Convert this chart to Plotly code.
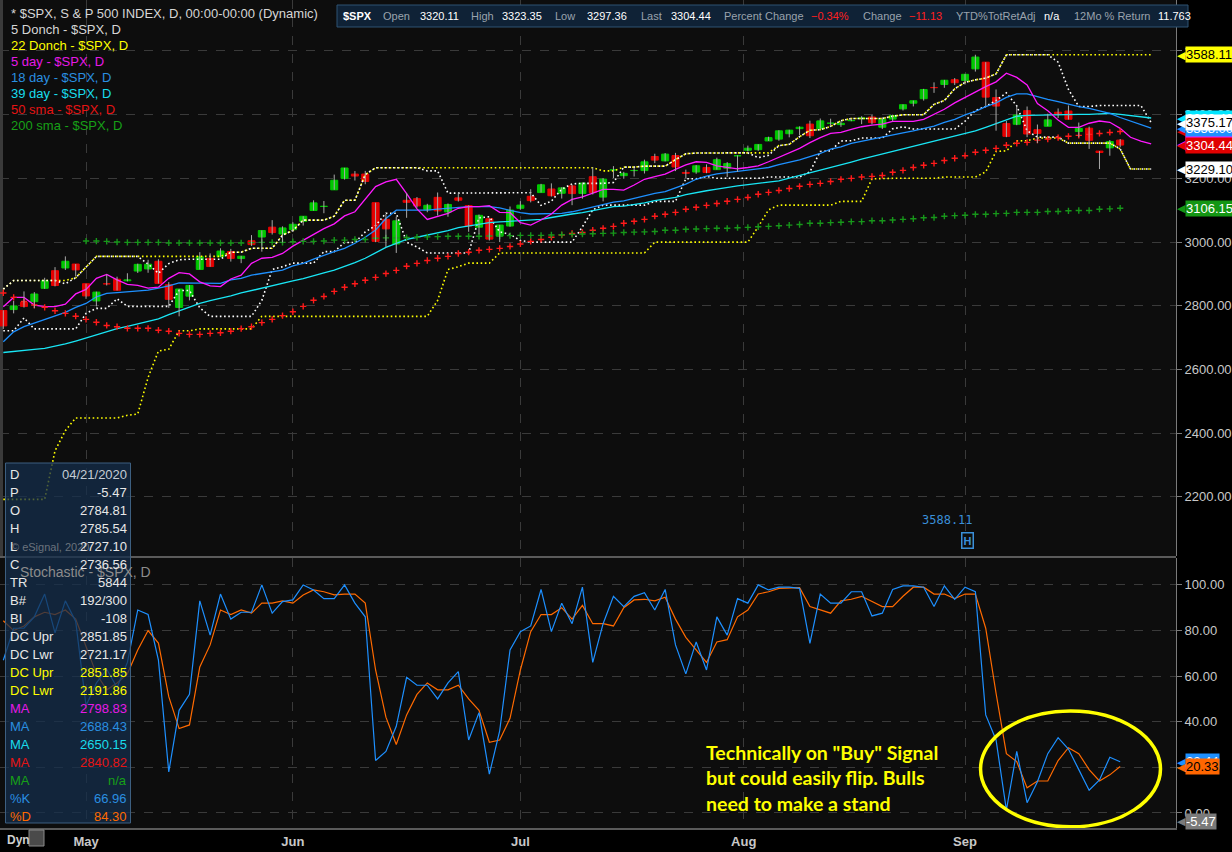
import plotly.graph_objects as go

# S&P 500 daily bars: bar 0 = 21 Apr 2020 ... bar 108 = 23 Sep 2020 (live bar)
opens = [2784.81, 2787.89, 2810.42, 2812.64, 2854.65, 2909.96, 2918.46, 2930.91, 2869.09, 2815.01,
         2868.88, 2883.14, 2878.26, 2908.83, 2915.46, 2939.50, 2865.86, 2794.54, 2829.95, 2913.86,
         2948.59, 2953.63, 2969.95, 2948.05, 3004.08, 3015.65, 3046.61, 3025.17, 3038.78, 3064.78,
         3098.90, 3111.56, 3163.84, 3199.92, 3213.32, 3213.42, 3123.53, 3071.04, 2993.76, 3131.00,
         3136.13, 3101.64, 3140.29, 3094.42, 3138.70, 3114.40, 3046.60, 3073.20, 3018.59, 3050.20,
         3105.92, 3143.64, 3155.29, 3166.44, 3153.07, 3176.17, 3152.47, 3205.08, 3141.11, 3225.98,
         3208.36, 3224.21, 3224.29, 3268.52, 3254.86, 3271.64, 3218.58, 3219.84, 3234.27, 3227.22,
         3231.76, 3270.45, 3288.26, 3289.92, 3317.37, 3323.17, 3340.05, 3356.04, 3370.34, 3355.46,
         3372.95, 3368.66, 3380.86, 3387.04, 3392.51, 3360.48, 3386.01, 3418.09, 3435.95, 3449.97,
         3485.14, 3494.69, 3509.73, 3507.44, 3543.76, 3564.74, 3453.60, 3371.88, 3369.82, 3412.56,
         3352.70, 3363.56, 3407.73, 3411.23, 3346.86, 3357.38, 3285.57, 3295.75, 3320.11]
highs = [2785.54, 2815.10, 2844.90, 2842.71, 2887.72, 2921.15, 2954.86, 2930.91, 2869.09, 2844.24,
         2898.23, 2891.11, 2901.92, 2932.16, 2944.25, 2945.82, 2874.14, 2852.80, 2865.01, 2968.09,
         2964.21, 2980.29, 2978.50, 2956.76, 3021.72, 3036.25, 3068.67, 3049.17, 3062.18, 3081.07,
         3130.94, 3128.91, 3211.72, 3233.13, 3222.71, 3223.27, 3123.53, 3088.42, 3079.76, 3153.45,
         3141.16, 3120.00, 3155.53, 3120.92, 3154.90, 3115.01, 3086.25, 3073.73, 3053.89, 3111.51,
         3128.44, 3165.81, 3182.59, 3184.15, 3171.80, 3179.78, 3186.82, 3235.32, 3200.95, 3238.28,
         3220.39, 3233.52, 3258.61, 3277.29, 3279.32, 3279.99, 3227.26, 3241.43, 3243.72, 3264.74,
         3250.92, 3272.17, 3302.73, 3306.84, 3330.77, 3351.03, 3352.54, 3363.29, 3381.01, 3387.89,
         3387.24, 3378.51, 3387.59, 3395.06, 3399.54, 3390.80, 3399.96, 3432.09, 3444.21, 3481.07,
         3501.38, 3509.23, 3514.77, 3528.03, 3588.11, 3564.85, 3479.15, 3379.97, 3424.77, 3425.55,
         3368.95, 3402.93, 3419.48, 3428.92, 3375.17, 3362.27, 3285.57, 3320.31, 3323.35]
lows = [2727.10, 2775.95, 2794.26, 2791.76, 2852.89, 2860.71, 2912.16, 2892.47, 2821.61, 2797.85,
        2863.55, 2847.65, 2876.48, 2902.88, 2903.44, 2869.59, 2793.15, 2766.64, 2816.78, 2913.86,
        2922.35, 2953.63, 2938.57, 2933.59, 2988.17, 2969.75, 3023.40, 2998.61, 3031.54, 3051.64,
        3098.90, 3090.41, 3163.84, 3196.00, 3193.11, 3181.49, 2999.49, 2984.47, 2965.66, 3076.06,
        3108.03, 3093.51, 3083.11, 3079.39, 3127.12, 3032.13, 3024.01, 3004.63, 2999.74, 3047.83,
        3101.17, 3124.52, 3155.29, 3142.93, 3136.53, 3115.70, 3136.22, 3149.43, 3127.66, 3200.76,
        3198.59, 3205.65, 3215.16, 3247.77, 3253.10, 3222.66, 3200.05, 3214.25, 3216.17, 3227.22,
        3204.13, 3220.26, 3284.53, 3286.37, 3317.37, 3318.14, 3328.72, 3335.44, 3326.44, 3355.46,
        3363.35, 3361.64, 3379.22, 3370.15, 3369.66, 3354.69, 3379.31, 3413.13, 3425.84, 3444.15,
        3468.35, 3484.32, 3493.25, 3494.60, 3535.23, 3427.41, 3349.63, 3329.27, 3366.84, 3329.25,
        3310.47, 3363.56, 3389.25, 3384.45, 3328.82, 3292.40, 3229.10, 3270.95, 3297.36]
closes = [2736.56, 2799.31, 2797.80, 2836.74, 2878.48, 2863.39, 2939.51, 2912.43, 2830.71, 2842.74,
          2868.44, 2848.42, 2881.19, 2929.80, 2930.32, 2870.12, 2820.00, 2852.50, 2863.70, 2953.91,
          2922.94, 2971.61, 2948.51, 2955.45, 2991.77, 3036.13, 3029.73, 3044.31, 3055.73, 3080.82,
          3122.87, 3112.35, 3193.93, 3232.39, 3207.18, 3190.14, 3002.10, 3041.31, 3066.59, 3124.74,
          3113.49, 3115.34, 3097.74, 3117.86, 3131.29, 3050.33, 3083.76, 3009.05, 3053.24, 3100.29,
          3115.86, 3130.01, 3179.72, 3145.32, 3169.94, 3152.05, 3185.04, 3155.22, 3197.52, 3226.56,
          3215.57, 3224.73, 3251.84, 3257.30, 3276.02, 3235.66, 3215.63, 3239.41, 3218.44, 3258.44,
          3246.22, 3271.12, 3294.61, 3306.51, 3327.77, 3349.16, 3351.28, 3360.47, 3333.69, 3380.35,
          3373.43, 3372.85, 3381.99, 3389.78, 3374.85, 3385.51, 3397.16, 3431.28, 3443.62, 3478.73,
          3484.55, 3508.01, 3500.31, 3526.65, 3580.84, 3455.06, 3426.96, 3331.84, 3398.96, 3339.19,
          3340.97, 3383.54, 3401.20, 3385.49, 3357.01, 3319.47, 3281.06, 3315.57, 3304.44]

# moving averages and donchian channels are displaced 3 bars -> they run to bar 111
ma5 = [2797, 2826, 2826, 2802, 2797, 2797, 2805, 2837, 2851, 2886,
       2898, 2881, 2867, 2864, 2855, 2858, 2886, 2904, 2900, 2875,
       2862, 2860, 2884, 2896, 2933, 2949, 2952, 2964, 2987, 3006,
       3025, 3042, 3057, 3082, 3095, 3134, 3174, 3189, 3197, 3152,
       3104, 3071, 3080, 3090, 3106, 3111, 3111, 3114, 3093, 3092,
       3061, 3053, 3069, 3088, 3116, 3134, 3142, 3153, 3165, 3165,
       3163, 3179, 3197, 3205, 3213, 3228, 3242, 3252, 3250, 3239,
       3234, 3230, 3234, 3239, 3252, 3266, 3281, 3294, 3312, 3328,
       3341, 3344, 3354, 3362, 3367, 3370, 3379, 3379, 3379, 3385,
       3402, 3417, 3437, 3454, 3472, 3488, 3503, 3530, 3517, 3493,
       3435, 3412, 3383, 3360, 3360, 3373, 3380, 3376, 3357, 3329,
       3317, 3308]
ma18 = [2687, 2718, 2734, 2745, 2755, 2766, 2779, 2795, 2807, 2828,
        2839, 2841, 2844, 2847, 2849, 2855, 2862, 2872, 2872, 2870,
        2870, 2870, 2881, 2886, 2896, 2902, 2906, 2912, 2925, 2933,
        2946, 2959, 2970, 2980, 2996, 3015, 3038, 3074, 3100, 3100,
        3099, 3100, 3103, 3106, 3110, 3111, 3111, 3111, 3107, 3100,
        3092, 3088, 3088, 3088, 3090, 3095, 3103, 3110, 3119, 3125,
        3129, 3137, 3145, 3153, 3158, 3169, 3182, 3197, 3207, 3214,
        3218, 3221, 3226, 3229, 3234, 3243, 3250, 3258, 3268, 3278,
        3292, 3299, 3310, 3317, 3324, 3330, 3337, 3343, 3349, 3356,
        3364, 3376, 3385, 3399, 3410, 3425, 3437, 3454, 3465, 3465,
        3456, 3448, 3441, 3432, 3425, 3420, 3412, 3404, 3391, 3380,
        3370, 3358]
ma39 = [2653, 2657, 2661, 2663, 2666, 2672, 2680, 2689, 2699, 2710,
        2720, 2728, 2735, 2743, 2750, 2759, 2772, 2784, 2797, 2807,
        2816, 2823, 2831, 2840, 2848, 2856, 2862, 2870, 2878, 2885,
        2893, 2903, 2912, 2923, 2935, 2949, 2965, 2983, 2996, 3008,
        3015, 3022, 3027, 3036, 3045, 3051, 3057, 3061, 3063, 3065,
        3068, 3069, 3071, 3077, 3083, 3088, 3092, 3098, 3105, 3111,
        3113, 3117, 3123, 3130, 3135, 3140, 3149, 3156, 3161, 3166,
        3172, 3176, 3180, 3184, 3187, 3192, 3201, 3209, 3218, 3226,
        3234, 3243, 3251, 3260, 3268, 3276, 3284, 3291, 3299, 3308,
        3316, 3323, 3332, 3340, 3349, 3360, 3372, 3385, 3395, 3398,
        3399, 3400, 3400, 3400, 3401, 3401, 3403, 3404, 3401, 3397,
        3392, 3389.40]
dc5_upper = [2851.85, 2879.22, 2879.22, 2879.22, 2879.22, 2879.22, 2868.98, 2887.72, 2921.15, 2954.86,
             2954.86, 2954.86, 2954.86, 2954.86, 2930.91, 2901.92, 2932.16, 2944.25, 2945.82, 2945.82,
             2945.82, 2945.82, 2968.09, 2968.09, 2980.29, 2980.29, 2980.29, 3021.72, 3036.25, 3068.67,
             3068.67, 3068.67, 3081.07, 3130.94, 3130.94, 3211.72, 3233.13, 3233.13, 3233.13, 3233.13,
             3233.13, 3223.27, 3223.27, 3153.45, 3153.45, 3155.53, 3155.53, 3155.53, 3155.53, 3155.53,
             3154.90, 3154.90, 3115.01, 3128.44, 3165.81, 3182.59, 3184.15, 3184.15, 3184.15, 3186.82,
             3235.32, 3235.32, 3238.28, 3238.28, 3238.28, 3258.61, 3277.29, 3279.32, 3279.99, 3279.99,
             3279.99, 3279.99, 3279.99, 3264.74, 3272.17, 3302.73, 3306.84, 3330.77, 3351.03, 3352.54,
             3363.29, 3381.01, 3387.89, 3387.89, 3387.89, 3387.89, 3395.06, 3399.54, 3399.54, 3399.96,
             3432.09, 3444.21, 3481.07, 3501.38, 3509.23, 3514.77, 3528.03, 3588.11, 3588.11, 3588.11,
             3588.11, 3588.11, 3564.85, 3479.15, 3425.55, 3425.55, 3428.92, 3428.92, 3428.92, 3428.92,
             3428.92, 3375.17]
dc5_lower = [2721.17, 2721.17, 2761.54, 2727.10, 2727.10, 2727.10, 2727.10, 2727.10, 2775.95, 2791.76,
             2791.76, 2821.61, 2797.85, 2797.85, 2797.85, 2797.85, 2797.85, 2847.65, 2847.65, 2793.15,
             2766.64, 2766.64, 2766.64, 2766.64, 2766.64, 2816.78, 2913.86, 2922.35, 2933.59, 2933.59,
             2933.59, 2969.75, 2969.75, 2998.61, 2998.61, 3031.54, 3051.64, 3090.41, 3090.41, 2999.49,
             2984.47, 2965.66, 2965.66, 2965.66, 2965.66, 2965.66, 3076.06, 3079.39, 3032.13, 3024.01,
             3004.63, 2999.74, 2999.74, 2999.74, 2999.74, 2999.74, 3047.83, 3101.17, 3115.70, 3115.70,
             3115.70, 3115.70, 3115.70, 3127.66, 3127.66, 3127.66, 3198.59, 3198.59, 3205.65, 3200.05,
             3200.05, 3200.05, 3200.05, 3200.05, 3204.13, 3204.13, 3204.13, 3204.13, 3220.26, 3284.53,
             3286.37, 3317.37, 3318.14, 3326.44, 3326.44, 3326.44, 3355.46, 3361.64, 3354.69, 3354.69,
             3354.69, 3354.69, 3354.69, 3379.31, 3413.13, 3425.84, 3444.15, 3468.35, 3427.41, 3349.63,
             3329.27, 3329.27, 3329.25, 3310.47, 3310.47, 3310.47, 3310.47, 3310.47, 3292.40, 3229.10,
             3229.10, 3229.10]
dc22_upper = [2851.85, 2879.22, 2879.22, 2879.22, 2879.22, 2879.22, 2879.22, 2887.72, 2921.15, 2954.86,
              2954.86, 2954.86, 2954.86, 2954.86, 2954.86, 2954.86, 2954.86, 2954.86, 2954.86, 2954.86,
              2954.86, 2954.86, 2968.09, 2968.09, 2980.29, 2980.29, 2980.29, 3021.72, 3036.25, 3068.67,
              3068.67, 3068.67, 3081.07, 3130.94, 3130.94, 3211.72, 3233.13, 3233.13, 3233.13, 3233.13,
              3233.13, 3233.13, 3233.13, 3233.13, 3233.13, 3233.13, 3233.13, 3233.13, 3233.13, 3233.13,
              3233.13, 3233.13, 3233.13, 3233.13, 3233.13, 3233.13, 3233.13, 3233.13, 3223.27, 3223.27,
              3235.32, 3235.32, 3238.28, 3238.28, 3238.28, 3258.61, 3277.29, 3279.32, 3279.99, 3279.99,
              3279.99, 3279.99, 3279.99, 3279.99, 3279.99, 3302.73, 3306.84, 3330.77, 3351.03, 3352.54,
              3363.29, 3381.01, 3387.89, 3387.89, 3387.89, 3387.89, 3395.06, 3399.54, 3399.54, 3399.96,
              3432.09, 3444.21, 3481.07, 3501.38, 3509.23, 3514.77, 3528.03, 3588.11, 3588.11, 3588.11,
              3588.11, 3588.11, 3588.11, 3588.11, 3588.11, 3588.11, 3588.11, 3588.11, 3588.11, 3588.11,
              3588.11, 3588.11]
dc22_lower = [2191.86, 2191.86, 2191.86, 2191.86, 2191.86, 2344.44, 2407.53, 2447.49, 2447.49, 2447.49,
              2447.49, 2447.49, 2455.79, 2459.96, 2574.57, 2657.67, 2663.30, 2721.17, 2721.17, 2727.10,
              2727.10, 2727.10, 2727.10, 2727.10, 2727.10, 2766.64, 2766.64, 2766.64, 2766.64, 2766.64,
              2766.64, 2766.64, 2766.64, 2766.64, 2766.64, 2766.64, 2766.64, 2766.64, 2766.64, 2766.64,
              2766.64, 2766.64, 2816.78, 2913.86, 2922.35, 2933.59, 2933.59, 2933.59, 2965.66, 2965.66,
              2965.66, 2965.66, 2965.66, 2965.66, 2965.66, 2965.66, 2965.66, 2965.66, 2965.66, 2965.66,
              2965.66, 2965.66, 2965.66, 2999.74, 2999.74, 2999.74, 2999.74, 2999.74, 2999.74, 2999.74,
              2999.74, 2999.74, 2999.74, 3047.83, 3101.17, 3115.70, 3115.70, 3115.70, 3115.70, 3115.70,
              3115.70, 3127.66, 3127.66, 3127.66, 3198.59, 3200.05, 3200.05, 3200.05, 3200.05, 3200.05,
              3200.05, 3204.13, 3204.13, 3204.13, 3204.13, 3220.26, 3284.53, 3286.37, 3317.37, 3318.14,
              3326.44, 3326.44, 3326.44, 3310.47, 3310.47, 3310.47, 3310.47, 3310.47, 3292.40, 3229.10,
              3229.10, 3229.10]

# simple moving averages, not displaced
sma50 = [2840, 2826, 2813, 2802, 2795, 2784, 2776, 2767, 2757, 2748,
         2738, 2734, 2729, 2729, 2729, 2723, 2720, 2713, 2710, 2710,
         2713, 2715, 2720, 2728, 2734, 2747, 2757, 2769, 2781, 2798,
         2817, 2829, 2845, 2858, 2869, 2880, 2889, 2901, 2911, 2924,
         2933, 2942, 2949, 2955, 2964, 2968, 2974, 2977, 2980, 2986,
         2994, 3002, 3008, 3015, 3022, 3027, 3030, 3037, 3043, 3049,
         3059, 3065, 3071, 3081, 3087, 3093, 3103, 3109, 3115, 3121,
         3128, 3134, 3140, 3150, 3156, 3162, 3168, 3175, 3181, 3184,
         3190, 3197, 3200, 3204, 3206, 3209, 3219, 3225, 3234, 3241,
         3247, 3256, 3263, 3271, 3282, 3288, 3294, 3304, 3310, 3313,
         3320, 3323, 3328, 3332, 3335, 3338, 3341, 3344, 3347.20]
sma200_first_bar = 8
sma200 = [3003, 3003, 3002, 3000, 2999, 2999, 2999, 2999, 2997, 2997,
          2997, 2997, 2997, 2997, 2997, 2997, 2998, 2999, 2999, 2999,
          3001, 3002, 3002, 3003, 3006, 3006, 3008, 3008, 3012, 3013,
          3013, 3014, 3015, 3016, 3017, 3018, 3018, 3018, 3018, 3019,
          3019, 3020, 3021, 3021, 3021, 3022, 3023, 3024, 3025, 3026,
          3027, 3028, 3030, 3031, 3032, 3033, 3037, 3037, 3040, 3041,
          3042, 3043, 3043, 3045, 3046, 3048, 3049, 3051, 3053, 3055,
          3059, 3059, 3061, 3062, 3064, 3064, 3067, 3067, 3069, 3071,
          3073, 3076, 3077, 3081, 3083, 3084, 3087, 3087, 3089, 3090,
          3093, 3093, 3093, 3096, 3096, 3098, 3099, 3099, 3103, 3104,
          3106.15]

stoch_k = [66.96, 81, 81, 86, 96, 79, 93, 84, 47, 57,
           63, 55, 66, 89, 87, 67, 18, 45, 52, 93,
           78, 96, 85, 88, 88, 100, 87.6, 92.7, 93.4, 100,
           97.8, 94, 94, 100, 92, 86, 23, 27, 38, 59.5,
           56, 56, 50, 57, 62, 32, 44, 17, 36, 71.5,
           79.5, 82, 98, 79.5, 92, 83, 99, 66, 83, 95,
           90.5, 95, 96.6, 89, 98, 73.7, 61, 75, 62.7, 86,
           78, 94, 92, 100, 97.8, 99, 99, 98.5, 74.4, 96,
           92, 92, 97, 97, 86.4, 87.6, 98, 99.6, 99.6, 99,
           90.5, 99.6, 93.7, 99, 97, 43, 32, 1.3, 27, 4.5,
           13.7, 26, 33, 28, 19, 10, 14.5, 24.4, 22.44]
stoch_d = [84.30, 80, 82, 86, 88, 87, 89, 85, 73, 61,
           54, 57, 61, 71.5, 80, 74.5, 51, 37, 38.6, 64,
           73.7, 89, 87, 89, 87.6, 92, 92, 93, 92, 95.6,
           97.8, 97, 95.6, 96, 96, 92, 62.7, 42, 30, 43,
           52, 57, 54, 54, 56, 50, 45, 31, 32, 41.5,
           62.7, 79.5, 87, 87, 90, 85, 91, 83, 83, 82,
           90, 93.4, 93.7, 93, 94.6, 85, 77, 71.5, 66, 75,
           76, 86, 89, 96, 97, 98.5, 98.5, 98.8, 90.5, 89,
           87.6, 93, 93.7, 95, 92.7, 90.5, 90.5, 95, 99, 99,
           96, 96, 94, 96, 96, 81, 52.5, 26, 22.5, 11,
           14, 14, 23, 28.6, 26, 19, 14, 16.7, 20.33]

month_bars = [8, 28, 50, 71.6, 93]
month_names = ["May", "Jun", "Jul", "Aug", "Sep"]
price_ticks = [2200, 2400, 2600, 2800, 3000, 3200, 3400, 3600]
stoch_ticks = [0, 20, 40, 60, 80, 100]

legend_rows = [
    ("* $SPX, S & P 500 INDEX, D, 00:00-00:00 (Dynamic)", "#d6d6d6"),
    ("5 Donch - $SPX, D", "#d6d6d6"),
    ("22 Donch - $SPX, D", "#ffff00"),
    ("5 day - $SPX, D", "#e619e6"),
    ("18 day - $SPX, D", "#2a8fe0"),
    ("39 day - $SPX, D", "#19dcec"),
    ("50 sma - $SPX, D", "#e61414"),
    ("200 sma - $SPX, D", "#17a017"),
]
quote_items = [("$SPX", "#ffffff"), ("Open", "#9aa3ad"), ("3320.11", "#ffffff"),
               ("High", "#9aa3ad"), ("3323.35", "#ffffff"), ("Low", "#9aa3ad"),
               ("3297.36", "#ffffff"), ("Last", "#9aa3ad"), ("3304.44", "#ffffff"),
               ("Percent Change", "#9aa3ad"), ("\u22120.34%", "#ff2020"), ("Change", "#9aa3ad"),
               ("\u221211.13", "#ff2020"), ("YTD%TotRetAdj", "#9aa3ad"), ("n/a", "#ffffff"),
               ("12Mo % Return", "#9aa3ad"), ("11.763", "#ffffff")]
quote_x = [341, 381, 418, 469, 500, 553, 585, 639, 669, 722, 809, 861, 907, 954, 1042, 1072, 1156]
data_window = [
    ("D", "04/21/2020", "#e8e8e8", "#c4ccd4"),
    ("P", "-5.47", "#e8e8e8", "#e8e8e8"),
    ("O", "2784.81", "#e8e8e8", "#e8e8e8"),
    ("H", "2785.54", "#e8e8e8", "#e8e8e8"),
    ("L", "2727.10", "#e8e8e8", "#e8e8e8"),
    ("C", "2736.56", "#e8e8e8", "#e8e8e8"),
    ("TR", "5844", "#e8e8e8", "#e8e8e8"),
    ("B#", "192/300", "#e8e8e8", "#e8e8e8"),
    ("BI", "-108", "#e8e8e8", "#e8e8e8"),
    ("DC Upr", "2851.85", "#e8e8e8", "#e8e8e8"),
    ("DC Lwr", "2721.17", "#e8e8e8", "#e8e8e8"),
    ("DC Upr", "2851.85", "#ffff00", "#ffff00"),
    ("DC Lwr", "2191.86", "#ffff00", "#ffff00"),
    ("MA", "2798.83", "#e619e6", "#e619e6"),
    ("MA", "2688.43", "#2a8fe0", "#2a8fe0"),
    ("MA", "2650.15", "#19dcec", "#19dcec"),
    ("MA", "2840.82", "#e61414", "#e61414"),
    ("MA", "n/a", "#17a017", "#17a017"),
    ("%K", "66.96", "#2a8fe0", "#2a8fe0"),
    ("%D", "84.30", "#ff6a00", "#ff6a00"),
]

# ---------------------------------------------------------------
PW, PH = 1176, 828          # plot area in pixels (r margin 56, b margin 24)


def px(x):
    return x / PW


def py(y):
    return (PH - y) / PH


bars = list(range(len(closes)))
ext = list(range(len(ma5)))
up = [c >= o for o, c in zip(opens, closes)]
body_col = ["#00c800" if u else "#e60000" for u in up]

wick_x, wick_y = [], []
for i, (h, l) in enumerate(zip(highs, lows)):
    wick_x += [i, i, None]
    wick_y += [l, h, None]

fig = go.Figure()

# donchian channels (dotted)
for ser, col in [(dc22_upper, "#ffff00"), (dc22_lower, "#ffff00"),
                 (dc5_upper, "#ffffff"), (dc5_lower, "#ffffff")]:
    fig.add_trace(go.Scatter(x=ext, y=ser, mode="lines", xaxis="x", yaxis="y",
                             line=dict(color=col, width=1.6, dash="1.6px,2.6px")))

# moving averages
fig.add_trace(go.Scatter(x=ext, y=ma39, mode="lines", line=dict(color="#19e6f5", width=1.3)))
fig.add_trace(go.Scatter(x=ext, y=ma18, mode="lines", line=dict(color="#1e90ff", width=1.3)))
fig.add_trace(go.Scatter(x=ext, y=ma5, mode="lines", line=dict(color="#ff19ff", width=1.3)))
fig.add_trace(go.Scatter(x=bars, y=sma50, mode="markers",
                         marker=dict(symbol="cross-thin", size=4.5,
                                     line=dict(color="#ff1a1a", width=1.4))))
fig.add_trace(go.Scatter(x=bars[sma200_first_bar:], y=sma200, mode="markers",
                         marker=dict(symbol="cross-thin", size=4.5,
                                     line=dict(color="#17961a", width=1.4))))

# candles: grey wicks, coloured bodies
fig.add_trace(go.Scatter(x=wick_x, y=wick_y, mode="lines", line=dict(color="#a8a8a8", width=1)))
fig.add_trace(go.Bar(x=bars, y=[abs(c - o) for o, c in zip(opens, closes)],
                     base=[min(o, c) for o, c in zip(opens, closes)], width=0.68,
                     marker=dict(color=body_col, line=dict(color=body_col, width=1))))

# stochastic pane
fig.add_trace(go.Scatter(x=bars, y=stoch_d, mode="lines", xaxis="x2", yaxis="y2",
                         line=dict(color="#ff6a00", width=1.2)))
fig.add_trace(go.Scatter(x=bars, y=stoch_k, mode="lines", xaxis="x2", yaxis="y2",
                         line=dict(color="#1e90ff", width=1.2)))

axis_font = dict(family="Arial", size=13, color="#c8c8c8")
grid = dict(showgrid=True, gridcolor="#3a3a3a", griddash="dash", gridwidth=1, zeroline=False)
xr = [-0.32, 113.4]

fig.update_layout(
    width=1232, height=852,
    margin=dict(l=0, r=56, t=0, b=24),
    paper_bgcolor="#000000", plot_bgcolor="#0d0d0d",
    showlegend=False, barmode="overlay",
    font=dict(family="Arial", color="#d6d6d6"),
    xaxis=dict(domain=[0, 1], anchor="y", range=xr, tickvals=month_bars,
               showticklabels=False, ticks="", **grid),
    xaxis2=dict(domain=[0, 1], anchor="y2", range=xr, matches="x", tickvals=month_bars,
                ticktext=[f"<b>{m}</b>" for m in month_names], tickfont=axis_font,
                ticks="", showline=True, linecolor="#5a5a5a", linewidth=2, **grid),
    yaxis=dict(domain=[py(556), 1], anchor="x", side="right", range=[2014, 3760],
               tickvals=price_ticks, tickformat=".2f", tickfont=axis_font,
               ticks="outside", ticklen=5, tickcolor="#7a7a7a",
               showline=True, linecolor="#7a7a7a", **grid),
    yaxis2=dict(domain=[0, py(558)], anchor="x2", side="right", range=[-6.6, 111.8],
                tickvals=stoch_ticks, tickformat=".2f", tickfont=axis_font,
                ticks="outside", ticklen=5, tickcolor="#7a7a7a",
                showline=True, linecolor="#7a7a7a", **grid),
)

shapes = [
    # pane separator and left edge strip
    dict(type="line", xref="paper", yref="paper", x0=0, x1=1, y0=py(557), y1=py(557),
         line=dict(color="#5a5a5a", width=2)),
    dict(type="rect", xref="paper", yref="paper", x0=0, x1=px(3), y0=py(556), y1=1,
         fillcolor="#3a3a3a", line=dict(width=0), layer="below"),
    # quote strip
    dict(type="rect", xref="paper", yref="paper", x0=px(337), x1=px(1188), y0=py(27), y1=py(5),
         fillcolor="#0f2236", line=dict(color="#2f5272", width=1)),
    # data window
    dict(type="rect", xref="paper", yref="paper", x0=px(5.5), x1=px(130.5), y0=py(823), y1=py(463),
         fillcolor="rgba(20,46,76,0.74)", line=dict(color="#3d5f80", width=1)),
    # yellow ellipse on the stochastic
    dict(type="circle", xref="x2", yref="y2", x0=94.5, x1=111.9, y0=-6.1, y1=44.7,
         line=dict(color="#ffff00", width=3.5)),
    # lock icon at the bottom left
    dict(type="rect", xref="paper", yref="paper", x0=px(29), x1=px(44), y0=py(846), y1=py(830),
         fillcolor="#4a4a4a", line=dict(color="#8a8a8a", width=1)),
]
fig.update_layout(shapes=shapes)

ann = []
for k, (txt, col) in enumerate(legend_rows):
    ann.append(dict(x=px(9), y=py(14 + 15.9 * k), xref="paper", yref="paper", text=txt,
                    xanchor="left", yanchor="middle", showarrow=False,
                    font=dict(size=13, color=col)))
for (txt, col), x in zip(quote_items, quote_x):
    label = f"<b>{txt}</b>" if txt == "$SPX" else txt
    ann.append(dict(x=px(x), y=py(16), xref="paper", yref="paper", text=label,
                    xanchor="left", yanchor="middle", showarrow=False,
                    font=dict(size=11, color=col)))

ann.append(dict(x=px(9), y=py(547), xref="paper", yref="paper", text="\u00a9 eSignal, 2020",
                xanchor="left", yanchor="middle", showarrow=False,
                font=dict(size=11, color="#6a737d")))
ann.append(dict(x=px(18), y=py(572), xref="paper", yref="paper", text="Stochastic - $SPX, D",
                xanchor="left", yanchor="middle", showarrow=False,
                font=dict(size=14, color="#8c8c8c")))

for k, (lab, val, lc, vc) in enumerate(data_window):
    yy = py(474 + 18.0 * k)
    ann.append(dict(x=px(8), y=yy, xref="paper", yref="paper", text=lab, xanchor="left",
                    yanchor="middle", showarrow=False, font=dict(size=13, color=lc)))
    ann.append(dict(x=px(129), y=yy, xref="paper", yref="paper", text=val, xanchor="right",
                    yanchor="middle", showarrow=False, font=dict(size=13, color=vc)))

# price-scale flags (last values), later ones drawn on top
price_flags = [
    (ma39[-1], "#00e5ff", "#ffffff"),
    (sma50[-1], "#e00000", "#ffffff"),
    (ma5[-1], "#ff19ff", "#ffffff"),
    (ma18[-1], "#1e90ff", "#ffffff"),
    (dc5_upper[-1], "#ffffff", "#000000"),
    (closes[-1], "#e00000", "#ffffff"),
    (dc5_lower[-1], "#ffffff", "#000000"),
    (sma200[-1], "#149614", "#ffffff"),
    (dc22_upper[-1], "#ffff00", "#000000"),
]
stoch_flags = [
    (stoch_k[-1], "#1e90ff", "#ffffff"),
    (stoch_d[-1], "#ff6600", "#000000"),
    (-3.6, "#7a7a7a", "#ffffff"),
]
for flags, yr in [(price_flags, "y"), (stoch_flags, "y2")]:
    for v, bg, fg in flags:
        txt = "-5.47" if v == -3.6 else f"{v:.2f}"
        ann.append(dict(x=px(1188), y=v, xref="paper", yref=yr, text="\u25c0", xanchor="right",
                        yanchor="middle", showarrow=False, font=dict(size=11, color=bg)))
        ann.append(dict(x=px(1185), y=v, xref="paper", yref=yr, text=txt, xanchor="left",
                        yanchor="middle", showarrow=False, bgcolor=bg, borderpad=0,
                        font=dict(size=13, color=fg)))

# high marker
ann.append(dict(x=91.3, y=2127, xref="x", yref="y", text="3588.11", showarrow=False,
                font=dict(family="DejaVu Sans Mono", size=12, color="#3a8fd8")))
ann.append(dict(x=93.2, y=2063, xref="x", yref="y", text="<b>H</b>", showarrow=False,
                bordercolor="#3a8fd8", borderwidth=1.5, borderpad=1, bgcolor="#0d0d0d",
                font=dict(size=11, color="#3a8fd8")))

# comment on the stochastic
for k, line in enumerate(['Technically on "Buy" Signal', "but could easily flip. Bulls",
                          "need to make a stand"]):
    ann.append(dict(x=px(704), y=py(752 + 25.5 * k), xref="paper", yref="paper",
                    text=f"<b>{line}</b>", xanchor="left", yanchor="middle", showarrow=False,
                    font=dict(family="Lato", size=19.5, color="#ffff00")))

ann.append(dict(x=px(5), y=py(840), xref="paper", yref="paper", text="<b>Dyn</b>",
                xanchor="left", yanchor="middle", showarrow=False,
                font=dict(size=12, color="#d0d0d0")))

fig.update_layout(annotations=ann)

fig.write_html("out.html", config={"displayModeBar": False},
               post_script="document.body.style.margin='0';document.body.style.overflow='hidden';")
